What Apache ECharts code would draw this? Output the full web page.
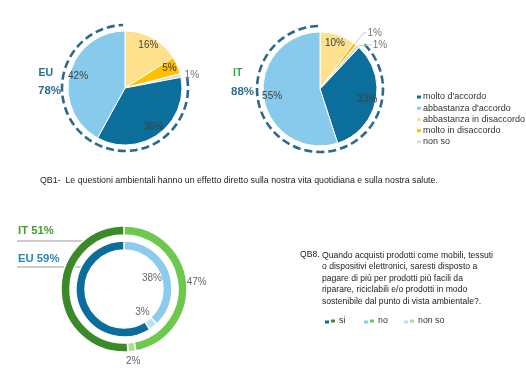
<!DOCTYPE html>
<html>
<head>
<meta charset="utf-8">
<script src="https://cdn.jsdelivr.net/npm/echarts@6/dist/echarts.min.js"></script>
<style>
  html, body { margin: 0; padding: 0; background: #fff; }
  #chart { width: 526px; height: 376px; }
</style>
</head>
<body>
<div id="chart"></div>
<script>
// QB1 answers, in pie order (clockwise from 12 o'clock)
const qb1Names = ['abbastanza in disaccordo', 'molto in disaccordo', 'non so', "molto d'accordo", "abbastanza d'accordo"]
const qb1Legend = ["molto d'accordo", "abbastanza d'accordo", 'abbastanza in disaccordo', 'molto in disaccordo', 'non so']
const qb1EU = [16, 5, 1, 36, 42]
const qb1IT = [10, 1, 1, 33, 55]
const qb1EUagree = 78
const qb1ITagree = 88

// QB8 answers, ring order (clockwise from 12 o'clock)
const qb8Names = ['no', 'non so', 'si']
const qb8Legend = ['si', 'no', 'non so']
const qb8EU = [38, 3, 59]
const qb8IT = [47, 2, 51]

const FONT = 'Liberation Sans, Arial, sans-serif'
const qb1Colors = {
  "molto d'accordo": '#0b6e9b',
  "abbastanza d'accordo": '#88caec',
  'abbastanza in disaccordo': '#ffe08c',
  'molto in disaccordo': '#ffc000',
  'non so': '#d9d9d9'
}
const euColors = { si: '#0b6d9a', no: '#8acbee', 'non so': '#b9e1f5' }
const itColors = { si: '#3b8a2a', no: '#6dc94c', 'non so': '#a9df90' }

const chart = echarts.init(document.getElementById('chart'), null, { renderer: 'canvas' })

const small = v => v <= 1

const pieData = vals => vals.map((v, i) => ({
  name: qb1Names[i],
  value: v,
  itemStyle: { color: qb1Colors[qb1Names[i]] }
}))

// lineLen(i) gives the leader length for the tiny slices, 0 = no visible line
const labelData = (vals, lineLen) => vals.map((v, i) => ({
  name: qb1Names[i],
  value: v,
  itemStyle: { color: 'rgba(0,0,0,0)', borderWidth: 0 },
  label: small(v)
    ? { position: 'outside', color: '#777', distanceToLabelLine: 1 }
    : { position: 'inside', color: '#404040' },
  labelLine: {
    show: small(v) && lineLen(i) > 0,
    length: Math.max(lineLen(i), 2), length2: lineLen(i) > 0 ? 3 : 1,
    lineStyle: { color: '#c8c8c8', width: 1 }
  }
}))

const qb1Pie = (center, vals) => ({
  type: 'pie',
  center,
  radius: [0, 57],
  startAngle: 90,
  clockwise: true,
  silent: true,
  label: { show: false },
  labelLine: { show: false },
  itemStyle: { borderColor: '#fff', borderWidth: 1 },
  data: pieData(vals)
})

const qb1Labels = (center, vals, lineLen) => ({
  type: 'pie',
  center,
  radius: [34, 57],
  startAngle: 90,
  clockwise: true,
  silent: true,
  avoidLabelOverlap: true,
  label: { show: true, formatter: '{c}%', fontFamily: FONT, fontSize: 10 },
  emphasis: { disabled: true },
  data: labelData(vals, lineLen)
})

// dashed arc round the "agree" share, from the end of the disagree slices to 12 o'clock
const agreeArc = (cx, cy, vals) => {
  const disagree = vals[0] + vals[1] + vals[2]
  return {
    type: 'custom',
    coordinateSystem: 'none',
    silent: true,
    data: [[disagree, 100]],
    renderItem: (params, api) => {
      const a0 = -Math.PI / 2 + api.value(0) / 100 * Math.PI * 2
      const a1 = -Math.PI / 2 + api.value(1) / 100 * Math.PI * 2
      return {
        type: 'arc',
        shape: { cx, cy, r: 63, startAngle: a0 + 0.03, endAngle: a1 - 0.03, clockwise: true },
        style: { stroke: '#2b6a8a', lineWidth: 2.6, lineDash: [8, 4], fill: null }
      }
    }
  }
}

const ring = (radius, names, vals, colors, prefix) => ({
  type: 'pie',
  center: [124, 289],
  radius,
  startAngle: 90,
  clockwise: true,
  silent: true,
  label: { show: false },
  labelLine: { show: false },
  itemStyle: { borderColor: '#fff', borderWidth: 1.5 },
  data: vals.map((v, i) => ({ name: prefix + names[i], value: v, itemStyle: { color: colors[names[i]] } }))
})

// percentages for "no" and "non so" only
const ringLabels = (radius, vals) => ({
  type: 'pie',
  center: [124, 289],
  radius,
  startAngle: 90,
  clockwise: true,
  silent: true,
  emphasis: { disabled: true },
  label: { show: true, position: 'inside', formatter: '{c}%', color: '#666', fontFamily: FONT, fontSize: 10 },
  labelLine: { show: false },
  itemStyle: { color: 'rgba(0,0,0,0)', borderWidth: 0 },
  data: vals.map((v, i) => ({ name: 'lbl' + i, value: v, label: { show: qb8Names[i] !== 'si' } }))
})

// bottom legend: one blue + one green square per answer, text after the green one
const legendX = [323, 362, 402]
const qb8Legends = []
qb8Legend.forEach((n, i) => {
  qb8Legends.push({
    left: legendX[i], top: 318.5, padding: 0, data: ['EU ' + n], icon: 'rect', itemWidth: 6, itemHeight: 5,
    formatter: () => '', selectedMode: false, textStyle: { fontSize: 1 }
  })
  qb8Legends.push({
    left: legendX[i] + 6, top: 316, padding: 0, data: ['IT ' + n], icon: 'rect', itemWidth: 6, itemHeight: 5,
    formatter: name => name.slice(3), selectedMode: false,
    textStyle: { fontFamily: FONT, fontSize: 8.8, lineHeight: 10, color: '#333', padding: [0, 0, 0, -2] }
  })
})

const text = (x, y, str, size, color, weight) => ({
  type: 'text', x, y,
  style: { text: str, fontFamily: FONT, fontSize: size, fill: color, fontWeight: weight || 'normal', textVerticalAlign: 'middle' }
})

const option = {
  animation: false,
  backgroundColor: '#fff',
  legend: [
    {
      orient: 'vertical', left: 415, top: 92, padding: 0, data: qb1Legend, icon: 'rect',
      itemWidth: 6, itemHeight: 5, itemGap: 1.25, selectedMode: false,
      textStyle: { fontFamily: FONT, fontSize: 9, lineHeight: 10, color: '#333', padding: [0, 0, 0, -4] }
    },
    ...qb8Legends
  ],
  graphic: [
    text(38.5, 73, 'EU', 10.5, '#2d6b8b', 'bold'),
    text(38, 91, qb1EUagree + '%', 11.5, '#2d6b8b', 'bold'),
    text(233, 73.5, 'IT', 10.5, '#3aa64a', 'bold'),
    text(231, 92, qb1ITagree + '%', 11.5, '#2f6f95', 'bold'),
    text(40, 181, 'QB1-  Le questioni ambientali hanno un effetto diretto sulla nostra vita quotidiana e sulla nostra salute.', 8.8, '#222'),
    text(18, 231, 'IT ' + qb8IT[2] + '%', 11.3, '#4a9a2f', 'bold'),
    text(18, 258.5, 'EU ' + qb8EU[2] + '%', 11.3, '#2a86b8', 'bold'),
    { type: 'line', shape: { x1: 17, y1: 241, x2: 90, y2: 241 }, style: { stroke: '#999', lineWidth: 1 } },
    { type: 'line', shape: { x1: 17, y1: 267, x2: 82, y2: 267 }, style: { stroke: '#999', lineWidth: 1 } },
    text(300, 255, 'QB8.', 8.6, '#222'),
    {
      type: 'text', x: 322, y: 250,
      style: {
        text: 'Quando acquisti prodotti come mobili, tessuti\no dispositivi elettronici, saresti disposto a\npagare di più per prodotti più facili da\nriparare, riciclabili e/o prodotti in modo\nsostenibile dal punto di vista ambientale?.',
        fontFamily: FONT, fontSize: 8.6, fill: '#222', lineHeight: 11.4
      }
    }
  ],
  series: [
    qb1Pie([125, 88], qb1EU),
    qb1Labels([125, 88], qb1EU, () => 0),
    agreeArc(125, 88, qb1EU),
    qb1Pie([320, 89], qb1IT),
    qb1Labels([320, 89], qb1IT, i => (i === 1 ? 14 : 6)),
    agreeArc(320, 89, qb1IT),
    ring([54, 63], qb8Names, qb8IT, itColors, 'IT '),
    ring([39, 48], qb8Names, qb8EU, euColors, 'EU '),
    ringLabels([14, 40], qb8EU),
    ringLabels([62, 78], qb8IT)
  ]
}

chart.setOption(option)
</script>
</body>
</html>
